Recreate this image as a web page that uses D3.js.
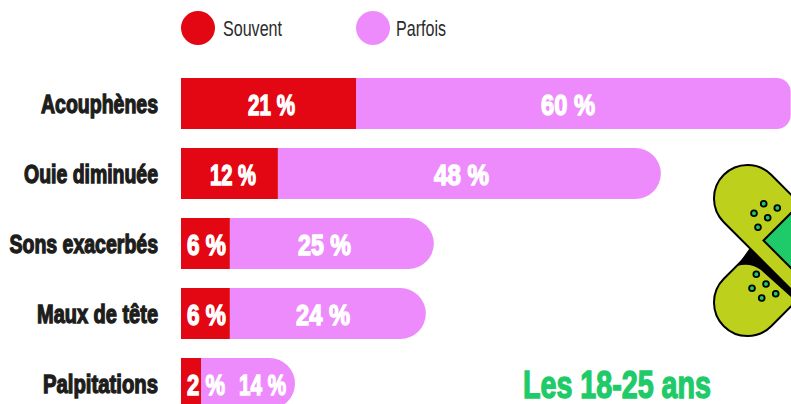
<!DOCTYPE html>
<html><head><meta charset="utf-8">
<script src="https://cdnjs.cloudflare.com/ajax/libs/d3/7.8.5/d3.min.js"></script>
<style>html,body{margin:0;padding:0;background:#fff;overflow:hidden}svg{display:block}
text{font-family:"Liberation Sans",sans-serif}</style></head><body>
<svg id="c" width="791" height="404"></svg>
<script>
const categories=["Acouphènes","Ouie diminuée","Sons exacerbés","Maux de tête","Palpitations"];
const souvent=[21.5,11.9,6,6,2.46];
const parfois=[53.4,47.05,25.06,24.08,11.55];
const souventLabels=["21 %","12 %","6 %","6 %","2 %"];
const parfoisLabels=["60 %","48 %","25 %","24 %","14 %"];
const seriesNames=["Souvent","Parfois"];
const colors=["#e30613","#ee8bfc"];

// layout of the condensed labels: [left, width]
const catLayout=[[41,117],[24,134],[9.5,148.5],[37,121],[43,115]];
const sLayout=[[248,47],[210,46],[187,39],[187,39],[187,38]];
const pLayout=[[541,54],[434,55],[298,53],[296,54],[239,47]];

const svg=d3.select("#c");
const x=d3.scaleLinear().domain([0,100]).range([181,995]);
const y=d3.scaleBand().domain(categories).range([78,409]).paddingInner(19/70).paddingOuter(0);
const bh=y.bandwidth();

function label(t,px,py,w,size,fill,sw,weight){
  return svg.append("text").attr("x",px).attr("y",py).attr("font-size",size)
    .attr("font-weight",weight||700).attr("fill",fill).attr("stroke",fill).attr("stroke-width",sw)
    .attr("textLength",w).attr("lengthAdjust","spacingAndGlyphs").text(t);
}

categories.forEach((c,i)=>{
  const x0=x(0),x1=x(souvent[i]),x2=x(souvent[i]+parfois[i]),yy=y(c);
  const r=i===0?14:bh/2;
  svg.append("path").attr("fill",colors[1])
    .attr("d",`M${x1},${yy}H${x2-r}A${r},${r} 0 0 1 ${x2},${yy+r}V${yy+bh-r}A${r},${r} 0 0 1 ${x2-r},${yy+bh}H${x1}Z`);
  svg.append("rect").attr("x",x0).attr("y",yy).attr("width",x1-x0).attr("height",bh).attr("fill",colors[0]);
  label(c,catLayout[i][0],yy+bh/2+9.3,catLayout[i][1],25,"#1d1d1b",1.3);
  label(souventLabels[i],sLayout[i][0],yy+bh/2+11.5,sLayout[i][1],30,"#fff",1.4);
  label(parfoisLabels[i],pLayout[i][0],yy+bh/2+11.5,pLayout[i][1],30,"#fff",1.4);
});

// legend
const legendX=[198,373], legendW=[59,50];
seriesNames.forEach((s,i)=>{
  svg.append("circle").attr("cx",legendX[i]).attr("cy",28).attr("r",17).attr("fill",colors[i]);
  label(s,legendX[i]+25-(i?2:0),36,legendW[i],21.5,"#2b2b2b",0,400);
});

label("Les 18-25 ans",523,398,188,38,"#1fca68",1.4);

// bandage illustration
const g=svg.append("g").attr("stroke","#000").attr("stroke-width",2);
const band="#bdd11c", pad="#1fca68", R=33.5;
g.append("rect").attr("x",747.5-R).attr("y",302.5-R).attr("width",200).attr("height",2*R).attr("rx",R)
  .attr("fill",band).attr("transform","rotate(-45 747.5 302.5)");
g.append("path").attr("fill","#000").attr("stroke","none")
  .attr("d","M737,266Q750,262 761,270L800,305V245H752Z");
g.append("rect").attr("x",747.5-R).attr("y",198.5-R).attr("width",200).attr("height",2*R).attr("rx",R)
  .attr("fill",band).attr("transform","rotate(45 747.5 198.5)");
g.append("path").attr("fill",pad).attr("d","M763.5,240.5L800,204V277Z");
const dotX=[763.7,777.3,754,767.7,758,756.3,766,752,775.7,761.7];
const dotY=[203.7,208,213.3,217.7,227.3,274.3,284,288.3,293.7,298];
dotX.forEach((d,i)=>g.append("circle").attr("cx",d).attr("cy",dotY[i]).attr("r",2.9).attr("fill",pad).attr("stroke-width",1.8));
</script></body></html>
